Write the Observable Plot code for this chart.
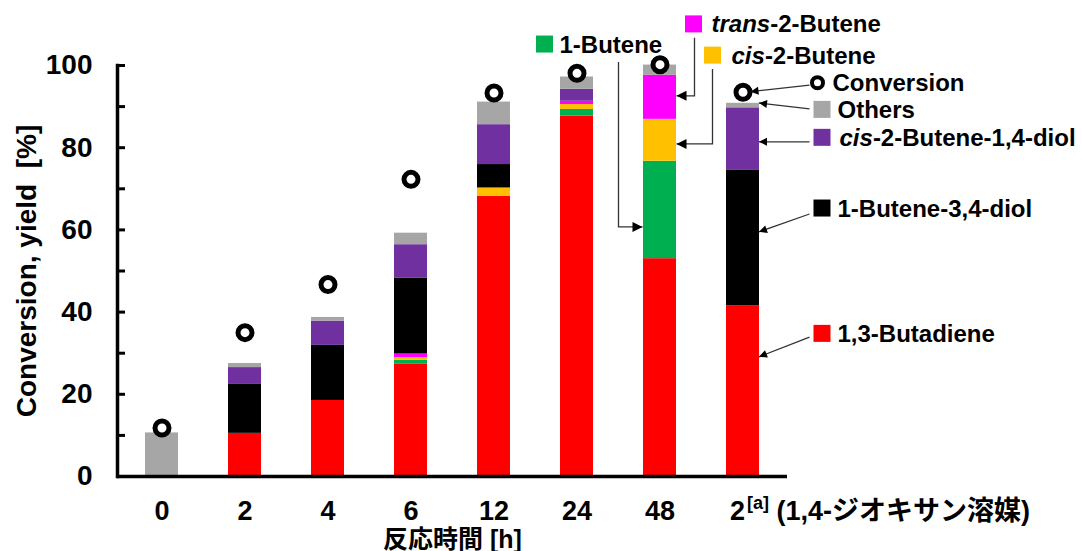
<!DOCTYPE html>
<html>
<head>
<meta charset="utf-8">
<script src="https://cdn.jsdelivr.net/npm/d3@7"></script>
<script src="https://cdn.jsdelivr.net/npm/@observablehq/plot@0.6"></script>
<style>
  html, body { margin: 0; padding: 0; background: #fff; }
</style>
</head>
<body>
<div id="chart"></div>
<script>
// ---------- data ----------
const categories = ["0", "2", "4", "6", "12", "24", "48", "2a"];
const tickLabels = ["0", "2", "4", "6", "12", "24", "48", "2"];
const lastTickSup = "[a]";
const lastTickSuffix = "\u00a0(1,4-ジオキサン溶媒)";

const series = ["1,3-Butadiene", "1-Butene", "cis-2-Butene", "trans-2-Butene",
                "1-Butene-3,4-diol", "cis-2-Butene-1,4-diol", "Others"];
const seriesColors = ["#FF0000", "#00B050", "#FFC000", "#FF00FF", "#000000", "#7030A0", "#A6A6A6"];

const butadiene       = [0,    10.5, 18.5, 27.4, 68.2, 87.7, 53.0, 41.5];
const butene1         = [0,    0,    0,    0.9,  0,    1.6,  23.7, 0];
const cis2Butene      = [0,    0,    0,    0.6,  2.0,  1.2,  10.2, 0];
const trans2Butene    = [0,    0,    0,    0.9,  0,    0.8,  10.7, 0];
const butene34diol    = [0,    11.9, 13.4, 18.5, 5.7,  0,    0,    33.1];
const cisButene14diol = [0,    4.1,  5.9,  8.1,  9.7,  2.9,  0,    15.1];
const others          = [10.6, 1.0,  0.9,  2.8,  5.5,  3.0,  2.5,  1.1];
const conversion      = [11.8, 35.0, 46.7, 72.3, 93.3, 98.1, 100.2, 93.5];

const yTicksMajor = [0, 20, 40, 60, 80, 100];
const yTicksMinor = [0, 10, 20, 30, 40, 50, 60, 70, 80, 90, 100];
const yTitle = "Conversion, yield\u00a0\u00a0[%]";
const xTitle = "反応時間 [h]";

// ---------- build tables ----------
const seriesValues = [butadiene, butene1, cis2Butene, trans2Butene, butene34diol, cisButene14diol, others];
const rows = series.flatMap((s, k) => categories.map((c, i) => ({cat: c, compound: s, value: seriesValues[k][i]})));
const convRows = categories.map((c, i) => ({cat: c, value: conversion[i]}));
const colorOf = Object.fromEntries(series.map((s, k) => [s, seriesColors[k]]));

const FONT = '"Liberation Sans", Arial, "Noto Sans CJK JP", sans-serif';

const chart = Plot.plot({
  width: 1082,
  height: 551,
  marginLeft: 117,
  marginRight: 295,
  marginTop: 65,
  marginBottom: 75,
  style: {fontFamily: FONT, background: "white", overflow: "visible", color: "black"},
  x: {domain: categories, paddingInner: 0.6, paddingOuter: 0.3, label: null, axis: null},
  y: {domain: [0, 100], label: null, axis: null},
  color: {domain: series, range: seriesColors},
  marks: [
    Plot.barY(rows, {x: "cat", y: "value", fill: "compound", order: series}),
    Plot.axisY(yTicksMinor, {tickSize: -8, strokeWidth: 3, text: null, label: null}),
    Plot.axisY(yTicksMajor, {tickSize: 0, tickPadding: 25, fontSize: 28, fontWeight: "bold", label: null}),
    Plot.axisX({tickSize: 0, tickPadding: 24, fontSize: 27, fontWeight: "bold", label: null,
                tickFormat: (d) => tickLabels[categories.indexOf(d)]}),
    Plot.ruleY([0], {strokeWidth: 3.5, stroke: "black"}),
    Plot.frame({anchor: "left", strokeWidth: 3.5, stroke: "black"}),
    Plot.dot(convRows, {x: "cat", y: "value", r: 7, stroke: "black", strokeWidth: 5, fill: "white"}),
    Plot.text([yTitle], {frameAnchor: "left", rotate: -90, dx: -90, textAnchor: "middle", lineAnchor: "middle",
                         fontSize: 28, fontWeight: "bold", text: d => d}),
    Plot.text([xTitle], {frameAnchor: "bottom", dy: 63, textAnchor: "middle", lineAnchor: "middle",
                         fontSize: 25, fontWeight: "bold", text: d => d})
  ]
});

document.getElementById("chart").appendChild(chart);

// ---------- last tick label with superscript ----------
const tickTexts = d3.select(chart).selectAll('g[aria-label="x-axis tick label"] text').nodes();
if (tickTexts.length) {
  const t = d3.select(tickTexts[tickTexts.length - 1]);
  const main = t.text();
  t.text(null).attr("text-anchor", "start").attr("x", -13);
  t.append("tspan").text(main);
  t.append("tspan").attr("font-size", 18).attr("dy", -11).attr("dx", 2).text(lastTickSup);
  t.append("tspan").attr("dy", 11).text(lastTickSuffix);
}

// ---------- annotations (positions from the plot's scales) ----------
const sx = chart.scale("x"), sy = chart.scale("y");
const bw = sx.bandwidth;
const cx = (c) => sx.apply(c) + bw / 2;
const py = (v) => sy.apply(v);

const g = d3.select(chart).append("g")
  .attr("font-family", FONT).attr("font-weight", "bold").attr("font-size", 24)
  .attr("fill", "black").attr("text-anchor", "start");

function head(x, y, ux, uy, len, hw) {
  const bx = x - ux * len, by = y - uy * len;
  g.append("path")
    .attr("d", `M${x},${y}L${bx - uy * hw},${by + ux * hw}L${bx + uy * hw},${by - ux * hw}Z`)
    .attr("fill", "black");
}
function arrow(points, len, hw) {
  g.append("path").attr("d", d3.line()(points)).attr("fill", "none")
    .attr("stroke", "#333").attr("stroke-width", 1.3);
  const [x2, y2] = points[points.length - 1], [x1, y1] = points[points.length - 2];
  const L = Math.hypot(x2 - x1, y2 - y1);
  head(x2, y2, (x2 - x1) / L, (y2 - y1) / L, len, hw);
}
function marker(x, y, key, kind) {
  if (kind === "circle") {
    g.append("circle").attr("cx", x).attr("cy", y).attr("r", 5.5)
      .attr("fill", "white").attr("stroke", "black").attr("stroke-width", 4);
  } else {
    g.append("rect").attr("x", x - 8.5).attr("y", y - 8.5).attr("width", 17).attr("height", 17)
      .attr("fill", colorOf[key]);
  }
}
function text(x, y, parts) {
  const t = g.append("text").attr("x", x).attr("y", y + 8.5).attr("text-anchor", "start");
  parts.forEach(([s, it]) => t.append("tspan").attr("font-style", it ? "italic" : null).text(s));
}

// right-side notes, pointing at the last bar
const lastCat = categories[categories.length - 1];
const rc = cx(lastCat);
const rightNotes = [
  {key: "Conversion", parts: [["Conversion"]], kind: "circle", labelY: 95.7, fromY: 95.1, toY: conversion[7], toDx: 8, textDx: 90, markDx: 75},
  {key: "Others", parts: [["Others"]], labelY: 89.2, fromY: 89.3, toY: 90.75, toDx: bw / 2, textDx: 95, markDx: 79.5},
  {key: "cis-2-Butene-1,4-diol", parts: [["cis", true], ["-2-Butene-1,4-diol"]], labelY: 82.4, fromY: 81.3, toY: 81.3, toDx: bw / 2, textDx: 97, markDx: 79.5},
  {key: "1-Butene-3,4-diol", parts: [["1-Butene-3,4-diol"]], labelY: 65.2, fromY: 63.75, toY: 59.4, toDx: bw / 2, textDx: 95, markDx: 79.5},
  {key: "1,3-Butadiene", parts: [["1,3-Butadiene"]], labelY: 34.7, fromY: 33.8, toY: 29.0, toDx: bw / 2, textDx: 95, markDx: 79.5}
];
for (const n of rightNotes) {
  marker(rc + n.markDx, py(n.labelY), n.key, n.kind);
  text(rc + n.textDx, py(n.labelY), n.parts);
  arrow([[rc + 67, py(n.fromY)], [rc + n.toDx, py(n.toY)]], 8, 4);
}

// top notes, elbow arrows pointing at the 48 h bar
const tc = cx("48");
const topNotes = [
  {key: "1-Butene", parts: [["1-Butene"]], labelY: 105.1, markDx: -115, textDx: -100, elbowDx: -41, fromY: 100.7, toY: 60.6, side: -1},
  {key: "trans-2-Butene", parts: [["trans", true], ["-2-Butene"]], labelY: 110.0, markDx: 34, textDx: 52, elbowDx: 35, fromY: 106.6, toY: 92.5, side: 1},
  {key: "cis-2-Butene", parts: [["cis", true], ["-2-Butene"]], labelY: 102.4, markDx: 53, textDx: 72, elbowDx: 53, fromY: 99.0, toY: 80.8, side: 1}
];
for (const n of topNotes) {
  marker(tc + n.markDx, py(n.labelY), n.key);
  text(tc + n.textDx, py(n.labelY), n.parts);
  arrow([[tc + n.elbowDx, py(n.fromY)], [tc + n.elbowDx, py(n.toY)], [tc + n.side * (bw / 2 + 0.5), py(n.toY)]], 10, 5);
}
</script>
</body>
</html>
